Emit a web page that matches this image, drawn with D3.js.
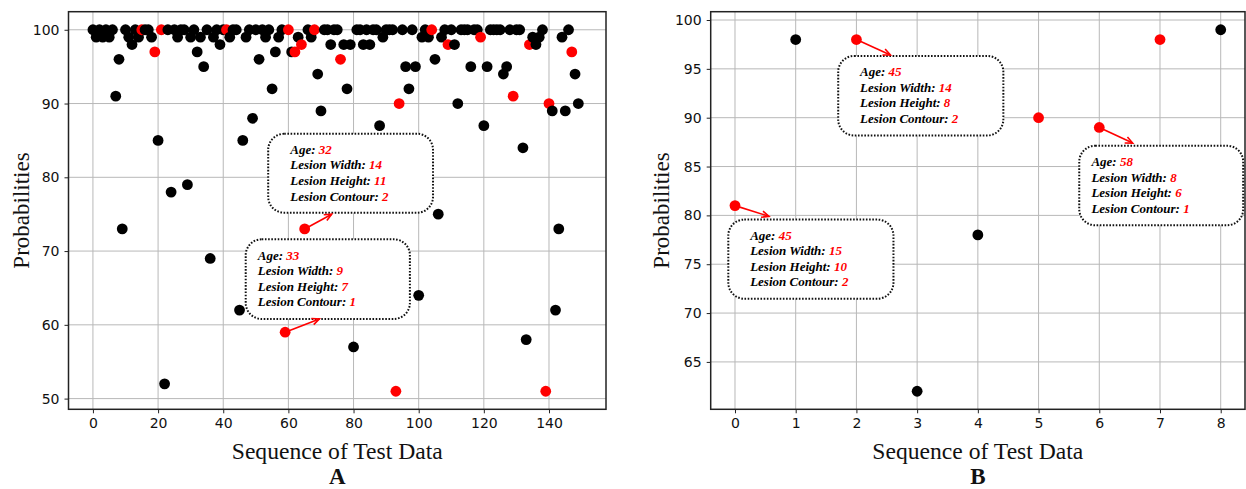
<!DOCTYPE html>
<html><head><meta charset="utf-8">
<script src="https://cdn.jsdelivr.net/npm/d3@7"></script>
<style>body{margin:0;background:#fff}svg{display:block}</style>
</head><body>
<svg id="c" width="1246" height="489"></svg>
<script>
// ---------- data ----------
const leftValues = [
100,99,100,99,100,99,100,91,96,73,
100,99,98,100,99,100,100,100,99,97,
85,100,52,100,78,100,99,100,100,79,
99,100,97,99,95,100,69,99,100,98,
100,100,99,100,100,62,85,99,100,88,
100,96,100,99,100,92,97,99,100,59,
100,97,97,99,98,73,100,99,100,94,
89,100,100,98,100,100,96,98,92,98,
57,100,100,98,100,98,100,100,87,99,
100,100,100,51,90,100,95,92,100,95,
64,99,100,99,100,96,75,99,100,98,
100,98,90,100,100,100,95,100,100,99,
87,95,100,100,100,100,94,95,100,91,
100,100,84,58,98,99,98,99,100,51,
90,89,62,73,99,89,100,97,94,90];
const leftRed = [15,19,21,41,59,60,62,64,65,68,76,93,94,104,109,119,129,134,139,140,147];
const leftXTicks = [0,20,40,60,80,100,120,140];
const leftYTicks = [50,60,70,80,90,100];

const rightValues = [81,98,98,62,78,90,89,98,99];
const rightRed = [0,2,5,6,7];
const rightXTicks = [0,1,2,3,4,5,6,7,8];
const rightYTicks = [65,70,75,80,85,90,95,100];

const annLabels = ["Age: ","Lesion Width: ","Lesion Height: ","Lesion Contour: "];
// annotation: point index, values, box [x0,x1,yTop,yBottom] (data units), text-left x, arrow tip
const leftAnn = [
  {idx:65, vals:[32,14,11,2], box:[53.8,104.4,85.9,75.2], tx:60.6, tip:[73.3,75.0]},
  {idx:59, vals:[33,9,7,1],   box:[46.9,97.3,71.6,60.8],  tx:50.6, tip:[69.5,60.8]}
];
const rightAnn = [
  {idx:2, vals:[45,14,8,2],  box:[1.70,4.42,96.32,88.18], tx:2.06, tip:[2.56,96.42]},
  {idx:0, vals:[45,15,10,2], box:[-0.11,2.61,79.57,71.47], tx:0.25, tip:[0.56,79.9]},
  {idx:6, vals:[58,8,6,1],   box:[5.67,8.37,87.13,78.99], tx:5.87, tip:[6.55,87.4]}
];

// ---------- drawing ----------
const svg = d3.select("#c");
const RED = "#ff0000";
const SERIF = "'Liberation Serif','Times New Roman',serif";
const SANS = "'DejaVu Sans',sans-serif";

function panel(o){
  const x = d3.scaleLinear().domain(o.xDom).range([o.left,o.right]);
  const y = d3.scaleLinear().domain(o.yDom).range([o.bottom,o.top]);
  const g = svg.append("g");
  // grid
  g.append("g").selectAll("line").data(o.xTicks).join("line")
    .attr("x1",d=>x(d)).attr("x2",d=>x(d)).attr("y1",o.top).attr("y2",o.bottom)
    .attr("stroke","#b8b8b8").attr("stroke-width",1);
  g.append("g").selectAll("line").data(o.yTicks).join("line")
    .attr("y1",d=>y(d)).attr("y2",d=>y(d)).attr("x1",o.left).attr("x2",o.right)
    .attr("stroke","#b8b8b8").attr("stroke-width",1);
  // axes
  const xa = g.append("g").attr("transform",`translate(0,${o.bottom})`)
    .call(d3.axisBottom(x).tickValues(o.xTicks).tickSize(4).tickPadding(5).tickFormat(d3.format("d")));
  const ya = g.append("g").attr("transform",`translate(${o.left},0)`)
    .call(d3.axisLeft(y).tickValues(o.yTicks).tickSize(4).tickPadding(5).tickFormat(d3.format("d")));
  [xa,ya].forEach(a=>{
    a.select(".domain").remove();
    a.selectAll(".tick line").attr("stroke","#222");
    a.selectAll("text").attr("font-family",SANS).attr("font-size","14px").attr("fill","#111");
  });
  // points
  const redSet = new Set(o.red);
  g.append("g").selectAll("circle").data(o.values).join("circle")
    .attr("cx",(d,i)=>x(i)).attr("cy",d=>y(d)).attr("r",5.4)
    .attr("fill",(d,i)=>redSet.has(i)?RED:"#000");
  // frame
  g.append("rect").attr("x",o.left).attr("y",o.top).attr("width",o.right-o.left).attr("height",o.bottom-o.top)
    .attr("fill","none").attr("stroke","#222").attr("stroke-width",1.5);
  // annotations
  o.ann.forEach(a=>{
    const bx0=x(a.box[0]), bx1=x(a.box[1]), by0=y(a.box[2]), by1=y(a.box[3]);
    g.append("rect").attr("x",bx0).attr("y",by0).attr("width",bx1-bx0).attr("height",by1-by0)
      .attr("rx",16).attr("ry",16).attr("fill","#fff").attr("stroke","#111")
      .attr("stroke-width",2).attr("stroke-dasharray","1.6,1.6");
    const tx = x(a.tx);
    const lh = 15.6;
    const top = by0 + 16 + ((by1-by0) - 80)/2;
    annLabels.forEach((lab,k)=>{
      const t = g.append("text").attr("x",tx).attr("y",top + k*lh).attr("dy","0.35em")
        .attr("font-family",SERIF).attr("font-size","13px").attr("font-weight","bold").attr("font-style","italic");
      t.append("tspan").attr("fill","#000").text(lab);
      t.append("tspan").attr("fill",RED).text(a.vals[k]);
    });
    // arrow
    const px = x(a.idx), py = y(o.values[a.idx]);
    const qx = x(a.tip[0]), qy = y(a.tip[1]);
    const ang = Math.atan2(qy-py,qx-px);
    g.append("line").attr("x1",px).attr("y1",py).attr("x2",qx).attr("y2",qy)
      .attr("stroke",RED).attr("stroke-width",1.6);
    const hl=8, ha=0.42;
    const head = `M${qx-hl*Math.cos(ang-ha)},${qy-hl*Math.sin(ang-ha)}L${qx},${qy}L${qx-hl*Math.cos(ang+ha)},${qy-hl*Math.sin(ang+ha)}`;
    g.append("path").attr("d",head).attr("fill","none").attr("stroke",RED).attr("stroke-width",1.6);
  });
  // labels
  g.append("text").attr("x",(o.left+o.right)/2).attr("y",459).attr("text-anchor","middle")
    .attr("font-family",SERIF).attr("font-size","23px").attr("fill","#111")
    .attr("textLength",211).attr("lengthAdjust","spacingAndGlyphs").text("Sequence of Test Data");
  g.append("text").attr("transform",`translate(${o.yLabX},${(o.top+o.bottom)/2}) rotate(-90)`)
    .attr("text-anchor","middle").attr("font-family",SERIF).attr("font-size","23px").attr("fill","#111")
    .text("Probabilities");
  g.append("text").attr("x",(o.left+o.right)/2).attr("y",484).attr("text-anchor","middle")
    .attr("font-family",SERIF).attr("font-size","23px").attr("font-weight","bold").attr("fill","#111")
    .text(o.letter);
}

panel({xDom:[-7.5,157.5], yDom:[48.55,102.45], left:68.5, right:606, top:11.7, bottom:409.3,
  xTicks:leftXTicks, yTicks:leftYTicks, values:leftValues, red:leftRed, ann:leftAnn, yLabX:29, letter:"A"});
panel({xDom:[-0.4,8.4], yDom:[60.15,100.85], left:710.7, right:1245, top:11.7, bottom:409.3,
  xTicks:rightXTicks, yTicks:rightYTicks, values:rightValues, red:rightRed, ann:rightAnn, yLabX:669, letter:"B"});
</script>
</body></html>
